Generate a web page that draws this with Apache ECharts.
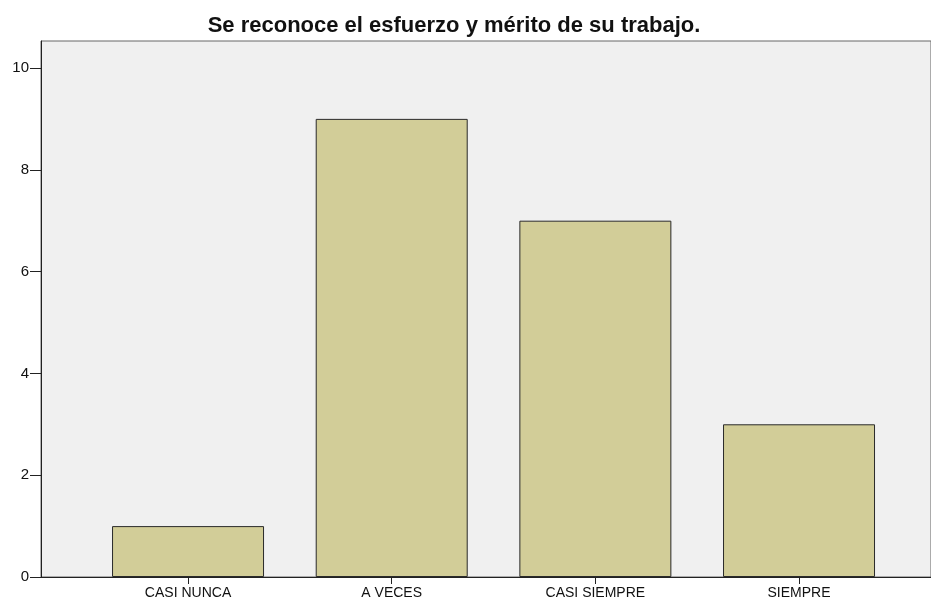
<!DOCTYPE html>
<html>
<head>
    <meta charset="utf-8"/>
    <title>Se reconoce el esfuerzo</title>
    <style>
        html, body { margin: 0; padding: 0; background: #fff; }
    </style>
</head>
<body>
<div id="main" style="width: 931px;height:602px;"></div>
<script src="https://cdn.jsdelivr.net/npm/echarts@6/dist/echarts.min.js"></script>
<script>
    var categories = ["CASI NUNCA", "A VECES", "CASI SIEMPRE", "SIEMPRE"];
    var counts = [1, 9, 7, 3];
    var catPositions = [1, 2, 3, 4];

    var myChart = echarts.init(document.getElementById('main'));

    var barData = [];
    for (var i = 0; i < counts.length; i++) {
        barData.push([catPositions[i], counts[i]]);
    }

    var option = {
        animation: false,
        title: {
            left: 449,
            textAlign: 'center',
            top: 10,
            text: 'Se reconoce el esfuerzo y mérito de su trabajo.',
            textStyle: {
                fontFamily: 'Liberation Sans, Arial, sans-serif',
                fontSize: 22,
                fontWeight: 'bold',
                color: '#111'
            }
        },
        grid: {
            left: 41,
            right: -1,
            top: 41,
            bottom: 25,
            show: true,
            backgroundColor: '#f0f0f0',
            borderColor: '#666',
            borderWidth: 1
        },
        xAxis: {
            type: 'value',
            min: 0.278,
            max: 4.648,
            splitLine: {show: false},
            axisLine: {show: true, lineStyle: {color: '#222', width: 1}},
            axisTick: {show: true, length: 7, customValues: catPositions, lineStyle: {color: '#222'}},
            axisLabel: {
                customValues: catPositions,
                fontFamily: 'Liberation Sans, Arial, sans-serif',
                fontSize: 14,
                color: '#111',
                margin: 9,
                formatter: function (v) {
                    return categories[Math.round(v) - 1] || '';
                }
            }
        },
        yAxis: {
            type: 'value',
            min: 0,
            max: 10.53,
            interval: 2,
            splitLine: {show: false},
            axisLine: {show: true, lineStyle: {color: '#222', width: 1}},
            axisTick: {show: true, length: 11, lineStyle: {color: '#222'}},
            axisLabel: {
                fontFamily: 'Liberation Sans, Arial, sans-serif',
                fontSize: 15,
                color: '#111',
                margin: 12,
                showMaxLabel: false
            }
        },
        series: [{
            type: 'bar',
            barWidth: 152,
            data: barData,
            itemStyle: {
                color: '#d2cd98',
                borderColor: '#2a2a2a',
                borderWidth: 1
            }
        }]
    };

    myChart.setOption(option);
</script>
</body>
</html>
